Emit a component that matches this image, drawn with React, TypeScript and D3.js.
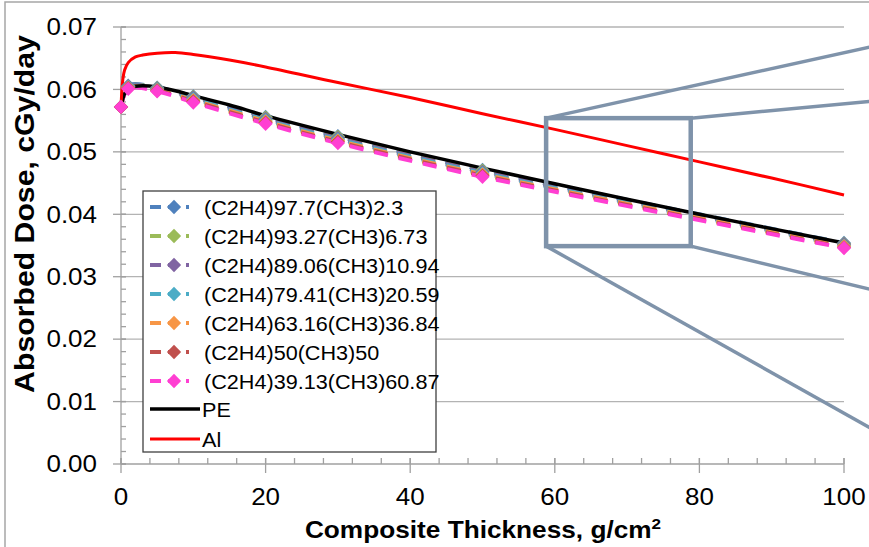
import React, { useRef, useEffect } from 'react';
import * as d3 from 'd3';

// marker positions of the composite series (g/cm2)
const markerX = [0, 1, 5, 10, 20, 30, 50, 100];

const composites = [
  { name: '(C2H4)97.7(CH3)2.3', color: '#4f81bd', values: [0.0572, 0.0606, 0.0603, 0.0589, 0.0556, 0.0525, 0.0471, 0.0354] },
  { name: '(C2H4)93.27(CH3)6.73', color: '#9bbb59', values: [0.0572, 0.0605, 0.0602, 0.0588, 0.0555, 0.0524, 0.047, 0.0353] },
  { name: '(C2H4)89.06(CH3)10.94', color: '#8064a2', values: [0.0572, 0.0605, 0.0601, 0.0587, 0.0553, 0.0522, 0.0468, 0.0352] },
  { name: '(C2H4)79.41(CH3)20.59', color: '#4bacc6', values: [0.0572, 0.0604, 0.06, 0.0585, 0.0551, 0.052, 0.0466, 0.035] },
  { name: '(C2H4)63.16(CH3)36.84', color: '#f79646', values: [0.0572, 0.0603, 0.0599, 0.0583, 0.0549, 0.0518, 0.0464, 0.0349] },
  { name: '(C2H4)50(CH3)50', color: '#c0504d', values: [0.0572, 0.0602, 0.0598, 0.0581, 0.0547, 0.0516, 0.0462, 0.0347] },
  { name: '(C2H4)39.13(CH3)60.87', color: '#ff3fd2', values: [0.0572, 0.0601, 0.0597, 0.0579, 0.0545, 0.0514, 0.046, 0.0346] },
];

// reference materials
const refX = [0, 0.25, 0.5, 1, 2, 3, 5, 7.5, 10, 15, 20, 30, 40, 50, 60, 70, 80, 90, 100];
const peValues = [0.0572, 0.0585, 0.0593, 0.0601, 0.0605, 0.0606, 0.0604, 0.0598, 0.059, 0.0575, 0.0558, 0.0528, 0.05, 0.0474, 0.0449, 0.0424, 0.04, 0.0377, 0.0354];
const alValues = [0.0572, 0.0616, 0.0631, 0.0643, 0.0652, 0.0655, 0.0658, 0.0659, 0.0656, 0.0647, 0.0636, 0.0611, 0.0587, 0.0561, 0.0536, 0.051, 0.0484, 0.0458, 0.0431];

const xTicks = [0, 20, 40, 60, 80, 100];
const yTicks = [0, 0.01, 0.02, 0.03, 0.04, 0.05, 0.06, 0.07];

// zoom box annotation, in data units
const zoomBox = { x0: 58.8, x1: 78.8, y0: 0.0349, y1: 0.0554 };
const zoomRays = [
  { from: [58.8, 0.0554], to: [103.6, 0.0668] },
  { from: [78.8, 0.0554], to: [103.6, 0.0581] },
  { from: [78.8, 0.0349], to: [103.6, 0.028] },
  { from: [58.8, 0.0349], to: [103.6, 0.0058] },
];

const W = 869;
const H = 547;
const FONT = 'Liberation Sans, Arial, sans-serif';

const App = () => {
  const ref = useRef<SVGSVGElement>(null);

  useEffect(() => {
    const svg = d3.select(ref.current);
    svg.selectAll('*').remove();

    const x = d3.scaleLinear().domain([0, 100]).range([121, 844]);
    const y = d3.scaleLinear().domain([0, 0.07]).range([464, 27]);

    svg.append('rect').attr('x', 5).attr('y', 2).attr('width', 900).attr('height', 600)
      .attr('fill', 'white').attr('stroke', '#a6a6a6').attr('stroke-width', 1.5);

    // gridlines
    svg.append('g').selectAll('line').data(yTicks.slice(1)).enter().append('line')
      .attr('x1', x(0)).attr('x2', x(100)).attr('y1', (d) => y(d)).attr('y2', (d) => y(d))
      .attr('stroke', '#b3b3b3').attr('stroke-width', 1.3);

    const axis = svg.append('g').attr('stroke', '#a0a0a0').attr('stroke-width', 1.3);
    axis.append('line').attr('x1', x(0)).attr('x2', x(0)).attr('y1', y(0.07)).attr('y2', y(0));
    axis.append('line').attr('x1', x(0)).attr('x2', x(100)).attr('y1', y(0)).attr('y2', y(0));
    const minorX = d3.range(0, 100.1, 4);
    axis.selectAll('.mx').data(minorX).enter().append('line')
      .attr('x1', (d) => x(d)).attr('x2', (d) => x(d)).attr('y1', y(0) - 6).attr('y2', y(0));
    axis.selectAll('.Mx').data(xTicks).enter().append('line')
      .attr('x1', (d) => x(d)).attr('x2', (d) => x(d)).attr('y1', y(0) - 6).attr('y2', y(0) + 9);
    const minorY = d3.range(0, 0.0701, 0.002);
    axis.selectAll('.my').data(minorY).enter().append('line')
      .attr('x1', x(0)).attr('x2', x(0) + 5).attr('y1', (d) => y(d)).attr('y2', (d) => y(d));
    axis.selectAll('.My').data(yTicks).enter().append('line')
      .attr('x1', x(0) - 8).attr('x2', x(0) + 5).attr('y1', (d) => y(d)).attr('y2', (d) => y(d));

    svg.append('g').selectAll('text').data(yTicks).enter().append('text')
      .attr('transform', (d) => `translate(97,${y(d)}) scale(1.13,1)`).attr('dy', '0.36em')
      .attr('text-anchor', 'end')
      .style('font-family', FONT).style('font-size', '23px').text((d) => d3.format('.2f')(d));
    svg.append('g').selectAll('text').data(xTicks).enter().append('text')
      .attr('transform', (d) => `translate(${x(d)},505) scale(1.13,1)`).attr('text-anchor', 'middle')
      .style('font-family', FONT).style('font-size', '23px').text((d) => d);

    svg.append('text')
      .attr('transform', 'translate(34,214) rotate(-90) scale(1.12,1)')
      .attr('text-anchor', 'middle').style('font-family', FONT).style('font-size', '27px')
      .style('font-weight', 'bold').text('Absorbed Dose, cGy/day');
    const xt = svg.append('text').attr('transform', 'translate(483,538) scale(1.14,1)')
      .attr('text-anchor', 'middle')
      .style('font-family', FONT).style('font-size', '23px').style('font-weight', 'bold');
    xt.append('tspan').text('Composite Thickness, g/cm');
    xt.append('tspan').attr('dy', -9).style('font-size', '15px').text('2');

    const smooth = d3.line<[number, number]>().x((d) => x(d[0])).y((d) => y(d[1])).curve(d3.curveCatmullRom.alpha(0.5));
    const diamond = d3.symbol().type(d3.symbolDiamond2).size(130);

    composites.forEach((s) => {
      const pts = markerX.map((v, i) => [v, s.values[i]] as [number, number]);
      svg.append('path').attr('d', smooth(pts)).attr('fill', 'none').attr('stroke', s.color)
        .attr('stroke-width', 4).attr('stroke-dasharray', '14 11');
    });

    svg.append('path').attr('d', smooth(refX.map((v, i) => [v, peValues[i]] as [number, number])))
      .attr('fill', 'none').attr('stroke', 'black').attr('stroke-width', 3.5);
    svg.append('path').attr('d', smooth(refX.map((v, i) => [v, alValues[i]] as [number, number])))
      .attr('fill', 'none').attr('stroke', '#ff0000').attr('stroke-width', 3);

    composites.forEach((s) => {
      svg.append('g').selectAll('path').data(markerX).enter().append('path')
        .attr('d', diamond).attr('transform', (d, i) => `translate(${x(d)},${y(s.values[i])})`)
        .attr('fill', s.color);
    });

    // zoom annotation
    const zg = svg.append('g').attr('stroke', '#7f93aa').attr('fill', 'none');
    zg.selectAll('line').data(zoomRays).enter().append('line')
      .attr('x1', (d) => x(d.from[0])).attr('y1', (d) => y(d.from[1]))
      .attr('x2', (d) => x(d.to[0])).attr('y2', (d) => y(d.to[1])).attr('stroke-width', 3.5);
    zg.append('rect').attr('x', x(zoomBox.x0)).attr('y', y(zoomBox.y1))
      .attr('width', x(zoomBox.x1) - x(zoomBox.x0)).attr('height', y(zoomBox.y0) - y(zoomBox.y1))
      .attr('stroke-width', 4.5);

    // legend
    const lg = svg.append('g');
    lg.append('rect').attr('x', 143).attr('y', 191).attr('width', 293).attr('height', 261)
      .attr('fill', 'white').attr('stroke', '#404040').attr('stroke-width', 1.3);
    composites.forEach((s, i) => {
      const cy = 207 + i * 29;
      lg.append('line').attr('x1', 150).attr('x2', 189).attr('y1', cy).attr('y2', cy)
        .attr('stroke', s.color).attr('stroke-width', 4).attr('stroke-dasharray', '11 7');
      lg.append('path').attr('d', diamond).attr('transform', `translate(174,${cy})`).attr('fill', s.color);
      lg.append('text').attr('transform', `translate(204,${cy}) scale(1.03,1)`).attr('dy', '0.36em')
        .style('font-family', FONT).style('font-size', '21px').text(s.name);
    });
    [{ name: 'PE', color: 'black', w: 3.5 }, { name: 'Al', color: '#ff0000', w: 3 }].forEach((r, i) => {
      const cy = 409 + i * 30;
      lg.append('line').attr('x1', 150).attr('x2', 200).attr('y1', cy).attr('y2', cy)
        .attr('stroke', r.color).attr('stroke-width', r.w);
      lg.append('text').attr('transform', `translate(202,${cy}) scale(1.03,1)`).attr('dy', '0.36em')
        .style('font-family', FONT).style('font-size', '21px').text(r.name);
    });
  }, []);

  return (
    <svg ref={ref} width={W} height={H}
      style={{ position: 'fixed', top: 0, left: 0, display: 'block', background: 'white' }} />
  );
};

export default App;
